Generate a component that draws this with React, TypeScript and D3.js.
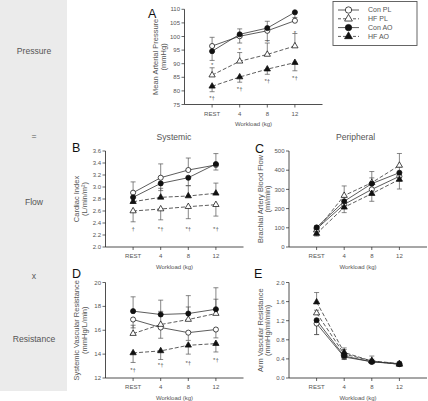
import React from "react";
import * as d3 from "d3";

const categories = ["REST", "4", "8", "12"];
const seriesNames = ["Con PL", "HF PL", "Con AO", "HF AO"];

// Panel A: Mean arterial pressure (mmHg)
const mapConPL = [96.5, 100.1, 102.1, 105.8];
const mapHFPL = [85.8, 90.9, 93.4, 96.5];
const mapConAO = [94.6, 100.8, 103.1, 108.9];
const mapHFAO = [81.7, 85.1, 88.0, 90.4];
const mapConPLErr = [3.2, 2.7, 3.5, 1.2];
const mapHFPLErr = [2.7, 3.2, 4.2, 4.6];
const mapConAOErr = [3.4, 3.2, 4.6, 3.0];
const mapHFAOErr = [2.0, 1.9, 1.9, 3.0];
const mapTicks = [75, 80, 85, 90, 95, 100, 105, 110];
const mapStarHFPL = [89.4, 95.1, 98.0, 101.5];
const mapMarksHFAO = [77.4, 80.9, 83.5, 84.9];

// Panel B: Cardiac index (L/min/m2)
const ciConPL = [2.905, 3.155, 3.283, 3.367];
const ciHFPL = [2.6, 2.633, 2.672, 2.705];
const ciConAO = [2.828, 3.06, 3.155, 3.383];
const ciHFAO = [2.755, 2.828, 2.85, 2.895];
const ciConPLErr = [0.18, 0.23, 0.2, 0.19];
const ciHFPLErr = [0.18, 0.18, 0.2, 0.19];
const ciConAOErr = [0.1, 0.12, 0.13, 0.1];
const ciHFAOErr = [0.15, 0.15, 0.17, 0.17];
const ciTicks = [2.0, 2.2, 2.4, 2.6, 2.8, 3.0, 3.2, 3.4, 3.6];
const ciMarks = [2.31, 2.31, 2.31, 2.31];
const ciMarkText = ["†", "*†", "*†", "*†"];

// Panel C: Brachial artery blood flow (ml/min)
const bfConPL = [95, 222, 300, 368];
const bfHFPL = [88, 268, 335, 425];
const bfConAO = [102, 238, 330, 387];
const bfHFAO = [70, 207, 278, 352];
const bfConPLErr = [8, 20, 25, 25];
const bfHFPLErr = [12, 50, 58, 62];
const bfConAOErr = [8, 22, 30, 30];
const bfHFAOErr = [13, 28, 40, 50];
const bfTicks = [0, 100, 200, 300, 400, 500];

// Panel D: Systemic vascular resistance (mmHg/L/min)
const svrConPL = [16.9, 16.23, 15.8, 16.06];
const svrHFPL = [15.72, 16.48, 16.9, 17.4];
const svrConAO = [17.6, 17.32, 17.4, 17.76];
const svrHFAO = [14.1, 14.27, 14.74, 14.88];
const svrConPLErr = [0.7, 0.9, 0.65, 0.7];
const svrHFPLErr = [0.7, 1.1, 1.05, 1.2];
const svrConAOErr = [1.2, 1.2, 1.5, 1.8];
const svrHFAOErr = [0.8, 0.72, 0.74, 0.7];
const svrTicks = [12, 14, 16, 18, 20];
const svrMarks = [12.65, 13.07, 13.3, 13.55];

// Panel E: Arm vascular resistance (mmHg/ml/min)
const avrConPL = [1.14, 0.44, 0.34, 0.3];
const avrHFPL = [1.36, 0.5, 0.36, 0.3];
const avrConAO = [1.21, 0.46, 0.34, 0.29];
const avrHFAO = [1.59, 0.535, 0.354, 0.285];
const avrConPLErr = [0.23, 0.05, 0.03, 0.03];
const avrHFPLErr = [0.06, 0.13, 0.1, 0.04];
const avrConAOErr = [0.3, 0.07, 0.04, 0.04];
const avrHFAOErr = [0.2, 0.06, 0.04, 0.03];
const avrTicks = [0.0, 0.4, 0.8, 1.2, 1.6, 2.0];

const FONT = "'Liberation Sans', Arial, Helvetica, sans-serif";
const INK = "#222";
const GREY = "#555";

type Series = { name: string; values: number[]; err: number[]; dir: number };
type Mark = { i: number; v: number; text: string };

const isOpen = (n: string) => n.endsWith("PL");
const isTri = (n: string) => n.startsWith("HF");

function Marker({ name, x, y, big }: { name: string; x: number; y: number; big?: boolean }) {
  const fill = isOpen(name) ? "#fff" : "#111";
  const k = big ? 1.25 : 1;
  if (isTri(name)) {
    const p = d3.symbol().type(d3.symbolTriangle).size(17 * k * k)();
    return <path d={p || ""} transform={`translate(${x},${y})`} fill={fill} stroke="#111" strokeWidth={0.75} />;
  }
  return <circle cx={x} cy={y} r={2.55 * k} fill={fill} stroke="#111" strokeWidth={0.75} />;
}

function Panel(props: {
  left: number; top: number; bottom: number; domain: [number, number];
  ticks: number[]; fmt: (v: number) => string; series: Series[]; marks: Mark[];
  title: string[]; letter: string; lx: number; ly: number;
}) {
  const { left, top, bottom, domain, ticks, fmt, series, marks, title, letter, lx, ly } = props;
  const width = 138;
  const x = d3.scaleLinear().domain([-1, 4]).range([left, left + width]);
  const y = d3.scaleLinear().domain(domain).range([bottom, top]);
  const line = d3.line<number>().x((_, i) => x(i)).y((v) => y(v));
  const midY = (top + bottom) / 2;
  return (
    <g fontFamily={FONT}>
      <text x={lx} y={ly} fontSize={12.5} fill="#111">{letter}</text>
      {title.map((t, k) => (
        <text key={k} transform={`translate(${left - 29 + k * 7.5},${midY}) rotate(-90)`} textAnchor="middle"
          fontSize={7.5} fill={GREY} dy="0.35em">{t}</text>
      ))}
      <line x1={left} x2={left} y1={bottom} y2={top} stroke={INK} strokeWidth={0.8} />
      <line x1={left} x2={left + width} y1={bottom} y2={bottom} stroke={INK} strokeWidth={0.8} />
      {ticks.map((t) => (
        <g key={t}>
          <line x1={left - 3} x2={left} y1={y(t)} y2={y(t)} stroke={INK} strokeWidth={0.7} />
          <text x={left - 4.5} y={y(t)} dy="0.35em" textAnchor="end" fontSize={6} fill={GREY}>{fmt(t)}</text>
        </g>
      ))}
      {categories.map((c, i) => (
        <g key={c}>
          <line x1={x(i)} x2={x(i)} y1={bottom} y2={bottom + 3} stroke={INK} strokeWidth={0.7} />
          <text x={x(i)} y={bottom + 11} textAnchor="middle" fontSize={6} fill={GREY}>{c}</text>
        </g>
      ))}
      <text x={left + width / 2} y={bottom + 21.5} textAnchor="middle" fontSize={6} fill={GREY}>Workload (kg)</text>
      {series.map((s) => (
        <path key={s.name} d={line(s.values) || ""} fill="none" stroke="#333" strokeWidth={0.8}
          strokeDasharray={isTri(s.name) ? "4,2" : undefined} />
      ))}
      {series.map((s) => (
        <g key={s.name + "e"}>
          {s.values.map((v, i) => {
            const e = v + s.dir * s.err[i];
            return (
              <g key={i}>
                <line x1={x(i)} x2={x(i)} y1={y(v)} y2={y(e)} stroke="#555" strokeWidth={0.7} />
                <line x1={x(i) - 2.5} x2={x(i) + 2.5} y1={y(e)} y2={y(e)} stroke="#555" strokeWidth={0.7} />
              </g>
            );
          })}
        </g>
      ))}
      {series.map((s) => (
        <g key={s.name + "m"}>
          {s.values.map((v, i) => <Marker key={i} name={s.name} x={x(i)} y={y(v)} />)}
        </g>
      ))}
      {marks.map((m, k) => (
        <text key={k} x={x(m.i)} y={y(m.v)} dy="0.35em" textAnchor="middle" fontSize={6} fill={GREY}>{m.text}</text>
      ))}
    </g>
  );
}

const mk = (vals: number[], texts: string[] | string): Mark[] =>
  vals.map((v, i) => ({ i, v, text: Array.isArray(texts) ? texts[i] : texts }));

export default function App() {
  const f0 = (v: number) => d3.format("d")(v);
  const f1 = (v: number) => d3.format(".1f")(v);
  const sA: Series[] = [
    { name: "Con PL", values: mapConPL, err: mapConPLErr, dir: 1 },
    { name: "HF PL", values: mapHFPL, err: mapHFPLErr, dir: 1 },
    { name: "Con AO", values: mapConAO, err: mapConAOErr, dir: -1 },
    { name: "HF AO", values: mapHFAO, err: mapHFAOErr, dir: -1 },
  ];
  const sB: Series[] = [
    { name: "Con PL", values: ciConPL, err: ciConPLErr, dir: 1 },
    { name: "HF PL", values: ciHFPL, err: ciHFPLErr, dir: -1 },
    { name: "Con AO", values: ciConAO, err: ciConAOErr, dir: -1 },
    { name: "HF AO", values: ciHFAO, err: ciHFAOErr, dir: 1 },
  ];
  const sC: Series[] = [
    { name: "Con PL", values: bfConPL, err: bfConPLErr, dir: -1 },
    { name: "HF PL", values: bfHFPL, err: bfHFPLErr, dir: 1 },
    { name: "Con AO", values: bfConAO, err: bfConAOErr, dir: 1 },
    { name: "HF AO", values: bfHFAO, err: bfHFAOErr, dir: -1 },
  ];
  const sD: Series[] = [
    { name: "Con PL", values: svrConPL, err: svrConPLErr, dir: -1 },
    { name: "HF PL", values: svrHFPL, err: svrHFPLErr, dir: 1 },
    { name: "Con AO", values: svrConAO, err: svrConAOErr, dir: 1 },
    { name: "HF AO", values: svrHFAO, err: svrHFAOErr, dir: -1 },
  ];
  const sE: Series[] = [
    { name: "Con PL", values: avrConPL, err: avrConPLErr, dir: -1 },
    { name: "HF PL", values: avrHFPL, err: avrHFPLErr, dir: 1 },
    { name: "Con AO", values: avrConAO, err: avrConAOErr, dir: -1 },
    { name: "HF AO", values: avrHFAO, err: avrHFAOErr, dir: 1 },
  ];
  const sideLabels = [
    { t: "Pressure", y: 53.5 },
    { t: "=", y: 139 },
    { t: "Flow", y: 205 },
    { t: "x", y: 279 },
    { t: "Resistance", y: 342 },
  ];
  return (
    <svg width={428} height={401} style={{ position: "absolute", left: 0, top: 0, background: "#fff" }}>
      <rect x={0} y={0} width={67} height={391} fill="#ebebeb" />
      {sideLabels.map((s) => (
        <text key={s.t} x={34} y={s.y} textAnchor="middle" fontFamily={FONT} fontSize={8.6} fill={GREY}>{s.t}</text>
      ))}
      <text x={174} y={140} textAnchor="middle" fontFamily={FONT} fontSize={8.6} fill={GREY}>Systemic</text>
      <text x={355.5} y={140} textAnchor="middle" fontFamily={FONT} fontSize={8.6} fill={GREY}>Peripheral</text>

      <Panel left={184.5} top={9.3} bottom={104.5} domain={[75, 110]} ticks={mapTicks} fmt={f0}
        series={sA} marks={[...mk(mapStarHFPL, "*"), ...mk(mapMarksHFAO, "*†")]}
        title={["Mean Arterial Pressure", "(mmHg)"]} letter="A" lx={148} ly={18} />
      <Panel left={105.5} top={151} bottom={247} domain={[2.0, 3.6]} ticks={ciTicks} fmt={f1}
        series={sB} marks={mk(ciMarks, ciMarkText)}
        title={["Cardiac Index", "(L/min/m²)"]} letter="B" lx={72} ly={152} />
      <Panel left={289} top={151} bottom={247} domain={[0, 500]} ticks={bfTicks} fmt={f0}
        series={sC} marks={[]}
        title={["Brachial Artery Blood Flow", "(ml/min)"]} letter="C" lx={255} ly={153} />
      <Panel left={105.5} top={282.5} bottom={378} domain={[12, 20]} ticks={svrTicks} fmt={f0}
        series={sD} marks={mk(svrMarks, "*†")}
        title={["Systemic Vascular Resistance", "(mmHg/L/min)"]} letter="D" lx={72} ly={278} />
      <Panel left={289} top={282.5} bottom={378} domain={[0, 2.0]} ticks={avrTicks} fmt={f1}
        series={sE} marks={[]}
        title={["Arm Vascular Resistance", "(mmHg/ml/min)"]} letter="E" lx={254} ly={278} />

      <g fontFamily={FONT}>
        <rect x={333} y={1.5} width={84} height={44} fill="#fff" stroke={GREY} strokeWidth={0.9} />
        {seriesNames.map((n, k) => {
          const yy = 10 + k * 8.8;
          return (
            <g key={n}>
              <line x1={338} x2={359} y1={yy} y2={yy} stroke="#333" strokeWidth={0.8}
                strokeDasharray={isTri(n) ? "3,2" : undefined} />
              <Marker name={n} x={348.5} y={yy} big />
              <text x={368} y={yy} dy="0.35em" fontSize={7} fill={GREY}>{n}</text>
            </g>
          );
        })}
      </g>
    </svg>
  );
}
